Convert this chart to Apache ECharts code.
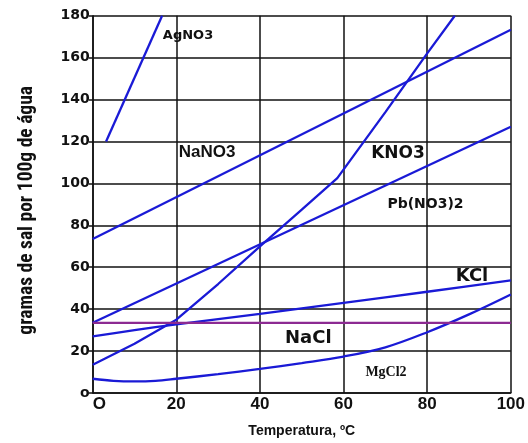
<!DOCTYPE html>
<html>
<head>
<meta charset="utf-8">
<script src="https://cdn.jsdelivr.net/npm/echarts@6/dist/echarts.min.js"></script>
<style>
html,body{margin:0;padding:0;background:#fff;}
#c{width:528px;height:443px;}
</style>
</head>
<body>
<div id="c"></div>
<script>
// Temperature (°C) / solubility (g per 100 g water) pairs
const xTickLabels = ['O', '20', '40', '60', '80', '100'];
const yTickLabels = ['o', '20', '40', '60', '80', '100', '120', '140', '160', '180'];

const agno3 = [[3.2, 120], [16.6, 180]];
const nano3 = [[0, 73.5], [100, 173.3]];
const kno3 = [[0, 13.5], [10, 23.5], [20, 35], [30, 52], [40, 70], [50, 87.5], [58.5, 102.5], [70, 134], [80, 162], [86.6, 180]];
const pbno32 = [[0, 33.5], [100, 127]];
const kcl = [[0, 27], [10, 30], [20, 32.7], [40, 37.8], [60, 43], [80, 48.3], [100, 53.7]];
const nacl = [[0, 33.5], [100, 33.5]];
const mgcl2 = [[0, 6.8], [5, 5.8], [10, 5.5], [15, 5.8], [20, 6.8], [30, 9], [40, 11.5], [50, 14.3], [60, 17.4], [70, 21.8], [80, 29], [90, 37.5], [100, 47]];

const seriesNames = ['AgNO3', 'NaNO3', 'KNO3', 'Pb(NO3)2', 'KCl', 'NaCl', 'MgCl2'];
const seriesData = [agno3, nano3, kno3, pbno32, kcl, nacl, mgcl2];
const smoothFlags = [false, false, false, false, 0.3, false, 0.35];

const BLUE = '#1a1ad6';
const PURPLE = '#8c2a92';

const chart = echarts.init(document.getElementById('c'), null, {renderer: 'canvas'});

const gridLine = {color: '#111', width: 1.5};

const option = {
  backgroundColor: '#fff',
  animation: false,
  grid: {left: 92.7, right: 15.5, top: 15.7, bottom: 49, containLabel: false},
  xAxis: {
    type: 'value', min: 0, max: 100, interval: 20,
    name: 'Temperatura, ºC', nameLocation: 'middle', nameGap: 31,
    nameTextStyle: {fontFamily: 'Liberation Sans', fontWeight: 'bold', fontSize: 14, color: '#111'},
    axisLine: {show: true, lineStyle: gridLine},
    axisTick: {show: false},
    splitLine: {show: true, lineStyle: gridLine},
    axisLabel: {
      margin: 3, fontFamily: 'Liberation Sans', fontWeight: 'bold', fontSize: 17, color: '#111',
      alignMinLabel: 'left',
      formatter: v => xTickLabels[Math.round(v / 20)]
    }
  },
  yAxis: {
    type: 'value', min: 0, max: 180, interval: 20,
    name: 'gramas de sal por 100g de água', nameLocation: 'middle', nameGap: 56, nameRotate: 90,
    nameTextStyle: {fontFamily: "'Liberation Sans Narrow', 'Roboto Condensed', 'Liberation Sans'", fontWeight: 'bold', fontSize: 19.5, color: '#111', padding: [0, 12, 0, 0]},
    axisLine: {show: true, lineStyle: gridLine},
    axisTick: {show: true, length: 4, lineStyle: gridLine},
    splitLine: {show: true, lineStyle: gridLine},
    axisLabel: {
      margin: 3, fontFamily: 'DejaVu Sans', fontWeight: 'bold', fontSize: 14, color: '#111',
      formatter: v => yTickLabels[Math.round(v / 20)]
    }
  },
  series: seriesNames.map((n, i) => ({
    name: n,
    type: 'line',
    data: seriesData[i],
    smooth: smoothFlags[i],
    showSymbol: false,
    symbol: 'none',
    clip: true,
    lineStyle: {color: n === 'NaCl' ? PURPLE : BLUE, width: 2.3},
    z: n === 'NaCl' ? 3 : 2
  })),
  graphic: [
    {type: 'text', x: 188, y: 36, style: {text: 'AgNO3', font: 'bold 13px "DejaVu Sans"', fill: '#111', textAlign: 'center', textVerticalAlign: 'middle'}},
    {type: 'text', x: 207, y: 152.5, style: {text: 'NaNO3', font: 'bold 17px "Liberation Sans Narrow", "Liberation Sans"', fill: '#111', textAlign: 'center', textVerticalAlign: 'middle'}},
    {type: 'text', x: 398, y: 154, style: {text: 'KNO3', font: 'bold 17px "DejaVu Sans"', fill: '#111', textAlign: 'center', textVerticalAlign: 'middle'}},
    {type: 'text', x: 425.5, y: 204.5, style: {text: 'Pb(NO3)2', font: 'bold 14px "DejaVu Sans"', fill: '#111', textAlign: 'center', textVerticalAlign: 'middle'}},
    {type: 'text', x: 472, y: 276.5, style: {text: 'KCl', font: 'bold 18px "DejaVu Sans"', fill: '#111', textAlign: 'center', textVerticalAlign: 'middle'}},
    {type: 'text', x: 308.3, y: 338, style: {text: 'NaCl', font: 'bold 18px "DejaVu Sans"', fill: '#111', textAlign: 'center', textVerticalAlign: 'middle'}},
    {type: 'text', x: 386, y: 372.5, style: {text: 'MgCl2', font: 'bold 14px "Liberation Serif"', fill: '#111', textAlign: 'center', textVerticalAlign: 'middle'}}
  ]
};
chart.setOption(option);
</script>
</body>
</html>
